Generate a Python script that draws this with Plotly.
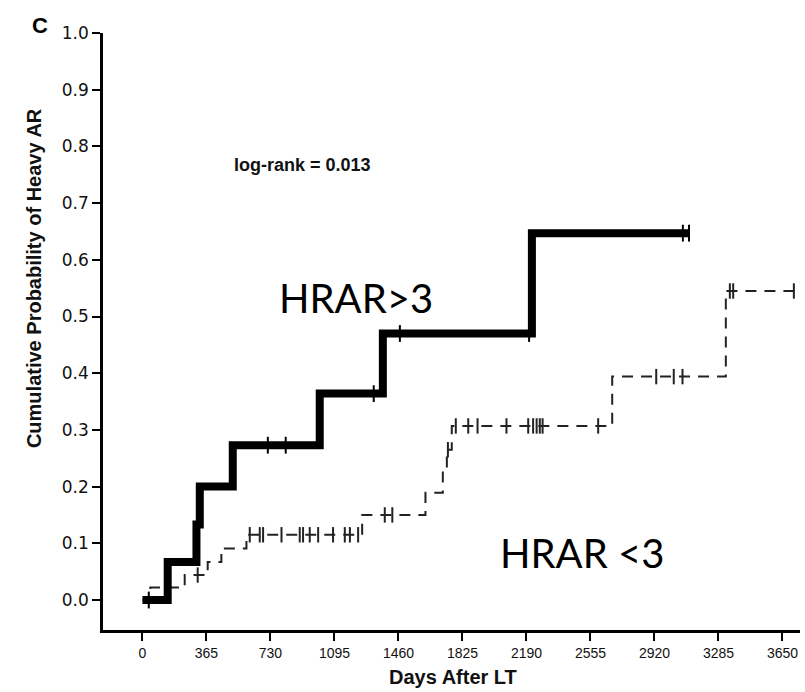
import plotly.graph_objects as go
import numpy as np

# ---- data ----
# HRAR>3 group (thick solid line)
hi_times = [0, 144, 308, 327, 515, 1011, 1371, 2221, 3120]
hi_probs = [0.0, 0.067, 0.133, 0.200, 0.273, 0.364, 0.470, 0.647, 0.647]
hi_censor = [36, 715, 817, 1319, 1468, 2205, 3082, 3117]

# HRAR<3 group (thin dashed line)
lo_times = [0, 45, 241, 372, 450, 593, 1253, 1614, 1713, 1736, 1764, 2679, 3327, 3725]
lo_probs = [0.0, 0.022, 0.044, 0.067, 0.091, 0.115, 0.150, 0.189, 0.228, 0.265,
            0.307, 0.394, 0.545, 0.545]
lo_censor = [315, 612, 669, 688, 793, 897, 916, 954, 1002, 1087, 1154, 1183, 1230,
             1382, 1425, 1742, 1787, 1858, 1911, 2076, 2200, 2228, 2248, 2266, 2282,
             2599, 2930, 3030, 3080, 3350, 3369, 3715]

x_ticks = [0, 365, 730, 1095, 1460, 1825, 2190, 2555, 2920, 3285, 3650]
y_ticks = [0.0, 0.1, 0.2, 0.3, 0.4, 0.5, 0.6, 0.7, 0.8, 0.9, 1.0]


def step_value(times, probs, t):
    idx = np.searchsorted(times, t, side="right") - 1
    return probs[max(idx, 0)]


fig = go.Figure()

# thin dashed curve
fig.add_trace(go.Scatter(
    x=lo_times, y=lo_probs, mode="lines", line_shape="hv",
    line=dict(color="#222222", width=2, dash="11px,8px"),
    showlegend=False, hoverinfo="skip"))
fig.add_trace(go.Scatter(
    x=lo_censor, y=[step_value(lo_times, lo_probs, t) for t in lo_censor],
    mode="markers",
    marker=dict(symbol="line-ns", size=11, line=dict(color="#222222", width=2)),
    showlegend=False, hoverinfo="skip"))

# thick solid curve
fig.add_trace(go.Scatter(
    x=hi_times, y=hi_probs, mode="lines", line_shape="hv",
    line=dict(color="black", width=8),
    showlegend=False, hoverinfo="skip"))
fig.add_trace(go.Scatter(
    x=hi_censor, y=[step_value(hi_times, hi_probs, t) for t in hi_censor],
    mode="markers",
    marker=dict(symbol="line-ns", size=12, line=dict(color="black", width=2)),
    showlegend=False, hoverinfo="skip"))

fig.update_layout(
    width=805, height=692,
    margin=dict(l=103, r=5, t=33, b=62),
    paper_bgcolor="white", plot_bgcolor="white",
    xaxis=dict(
        range=[-225, 3750], tickvals=x_ticks, ticktext=[str(v) for v in x_ticks],
        showline=True, linecolor="black", linewidth=2.5, mirror=False,
        ticks="outside", ticklen=8, tickwidth=2, tickcolor="black",
        showgrid=False, zeroline=False,
        tickfont=dict(family="Liberation Sans, Arial", size=14, color="#111111"),
    ),
    yaxis=dict(
        range=[-0.0529, 1.0], tickvals=y_ticks, tickformat=".1f",
        showline=True, linecolor="black", linewidth=2.5,
        ticks="outside", ticklen=8, tickwidth=2, tickcolor="black",
        showgrid=False, zeroline=False,
        tickfont=dict(family="DejaVu Sans", size=17, color="#111111"),
    ),
    annotations=[
        dict(text="<b>C</b>", xref="paper", yref="paper", x=-0.09, y=1.012,
             xanchor="center", yanchor="middle", showarrow=False,
             font=dict(family="Liberation Sans, Arial", size=22, color="black")),
        dict(text="<b>Cumulative Probability of Heavy AR</b>", xref="paper", yref="paper",
             x=-0.1, y=0.59, textangle=-90, xanchor="center", yanchor="middle",
             showarrow=False,
             font=dict(family="Liberation Sans, Arial", size=20, color="#111111")),
        dict(text="<b>Days After LT</b>", xref="x", yref="paper", x=1770, y=-0.078,
             xanchor="center", yanchor="middle", showarrow=False,
             font=dict(family="Liberation Sans, Arial", size=20, color="#111111")),
        dict(text="<b>log-rank = 0.013</b>", xref="x", yref="y", x=910, y=0.768,
             xanchor="center", yanchor="middle", showarrow=False,
             font=dict(family="Liberation Sans, Arial", size=18, color="#111111")),
        dict(text="HRAR>3", xref="x", yref="y", x=1217, y=0.533,
             xanchor="center", yanchor="middle", showarrow=False,
             font=dict(family="Lato, Liberation Sans", size=40, color="black")),
        dict(text="HRAR <3", xref="x", yref="y", x=2506, y=0.083,
             xanchor="center", yanchor="middle", showarrow=False,
             font=dict(family="Lato, Liberation Sans", size=40, color="black")),
    ],
)

fig.write_html("out.html")
